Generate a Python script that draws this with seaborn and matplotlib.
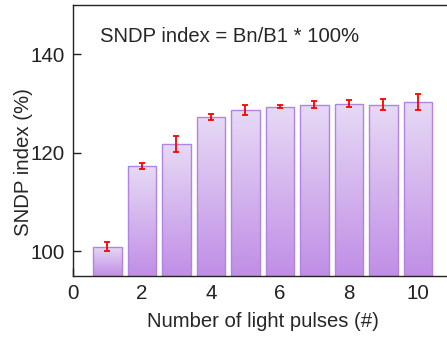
import numpy as np
import pandas as pd
import seaborn as sns
import matplotlib.pyplot as plt
from matplotlib.colors import LinearSegmentedColormap

# 数据
pulses = [1, 2, 3, 4, 5, 6, 7, 8, 9, 10]
sndp = [101.0, 117.4, 121.8, 127.3, 128.7, 129.4, 129.8, 130.0, 129.8, 130.4]
sndp_err = [1.0, 0.6, 1.7, 0.6, 1.0, 0.3, 0.7, 0.7, 1.1, 1.6]

sns.set_theme(style="ticks")
plt.rcParams['font.family'] = ['Liberation Sans', 'DejaVu Sans']
plt.rcParams['axes.linewidth'] = 1.0
plt.rcParams['axes.edgecolor'] = '#222222'

df = pd.DataFrame({'pulse': pulses, 'sndp': sndp})

fig = plt.figure(figsize=(4.47, 3.40), dpi=100)
ax = fig.add_axes([0.1633, 0.188, 0.849, 0.797])

sns.barplot(data=df, x='pulse', y='sndp', native_scale=True, width=0.82,
            facecolor='none', edgecolor='#b084e0', linewidth=1.0,
            errorbar=None, ax=ax)

ymin, ymax = 95, 150
# 渐变填充
cmap = LinearSegmentedColormap.from_list('purp', ['#c08ee6', '#e7daf5'])
grad = np.linspace(0, 1, 256).reshape(-1, 1)
for p in ax.patches:
    x0 = p.get_x()
    x1 = x0 + p.get_width()
    top = p.get_y() + p.get_height()
    im = ax.imshow(grad, cmap=cmap, origin='lower', aspect='auto',
                   extent=[x0, x1, ymin, top], zorder=1)
    im.set_clip_path(p)
    p.set_zorder(2)

ax.errorbar(pulses, sndp, yerr=sndp_err, fmt='none', ecolor='red',
            elinewidth=1.3, capsize=2.4, capthick=1.3, zorder=3)

ax.set_xlim(0, 11)
ax.set_ylim(ymin, ymax)
ax.set_xticks([0, 2, 4, 6, 8, 10])
ax.set_yticks([100, 120, 140])
ax.tick_params(direction='in', length=6, width=1.0, labelsize=14.8, colors='#222222', pad=6)
ax.set_xlabel('Number of light pulses (#)', fontsize=14.6, labelpad=6)
ax.set_ylabel('SNDP index (%)', fontsize=14.7)
ax.yaxis.set_label_coords(-0.105, 0.4225)
ax.text(0.77, 143.7, 'SNDP index = Bn/B1 * 100%', fontsize=14.6, va='center', ha='left')

for s in ax.spines.values():
    s.set_visible(True)

fig.savefig('out.png', dpi=100)
